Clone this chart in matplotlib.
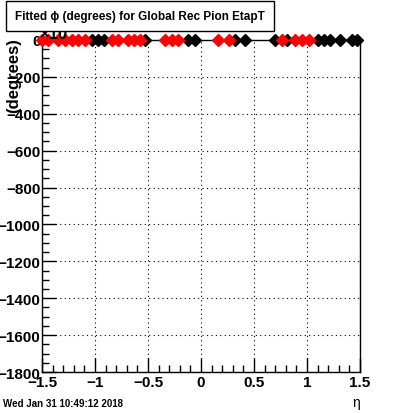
import matplotlib
matplotlib.use("Agg")
import matplotlib.pyplot as plt
from matplotlib.ticker import MultipleLocator, FuncFormatter

plt.rcParams['font.family'] = ['Liberation Sans', 'DejaVu Sans']

# fitted phi per eta bin (values ~0 on this scale)
eta_red = [-1.50, -1.443, -1.349, -1.283, -1.217, -1.160, -1.094, -0.840, -0.783,
           -0.689, -0.632, -0.575, -0.340, -0.274, -0.217, 0.160, 0.264, 0.764,
           0.887, 0.953, 1.019]
phi_red = [0.0] * len(eta_red)
eta_black = [-1.028, -0.972, -0.915, -0.528, -0.123, -0.057, 0.321, 0.415, 0.698,
             0.811, 1.104, 1.160, 1.217, 1.311, 1.425, 1.472]
phi_black = [0.0] * len(eta_black)

fig = plt.figure(figsize=(4.0, 4.14), dpi=100)
ax = fig.add_axes([0.105, 0.099, 0.795, 0.802])

ax.plot(eta_black, phi_black, 'D', color='black', markersize=6.5, clip_on=False, zorder=5)
ax.plot(eta_red, phi_red, 'D', color='red', markersize=6.5, clip_on=False, zorder=6)

ax.set_xlim(-1.5, 1.5)
ax.set_ylim(-1800, 0)
ax.xaxis.set_major_locator(MultipleLocator(0.5))
ax.xaxis.set_minor_locator(MultipleLocator(0.1))
ax.yaxis.set_major_locator(MultipleLocator(200))
ax.yaxis.set_minor_locator(MultipleLocator(50))
fmt = FuncFormatter(lambda v, p: ('%g' % v).replace('-', '\u2212'))
ax.xaxis.set_major_formatter(fmt)
ax.yaxis.set_major_formatter(fmt)
ax.tick_params(which='both', direction='in', top=False, right=False, color='black')
ax.tick_params(which='major', length=10, width=1, labelsize=11)
ax.tick_params(which='minor', length=5, width=1)
ax.tick_params(axis='y', pad=1)
ax.tick_params(axis='x', pad=2)
for lab in ax.get_xticklabels() + ax.get_yticklabels():
    lab.set_fontweight('bold')
ax.grid(True, which='major', color='black', linestyle=(0, (1, 3)), linewidth=0.8)
for s in ax.spines.values():
    s.set_linewidth(1)

ax.set_ylabel('(degrees)', fontsize=12, fontweight='bold')
ax.yaxis.set_label_coords(-0.065, 0.895)

fig.text(0.098, 0.905, '×10', fontsize=12, fontweight='bold', zorder=1)
fig.text(0.0375, 0.959, 'Fitted ϕ (degrees) for Global Rec Pion EtapT', fontsize=8.5,
         fontweight='bold', va='center', zorder=10,
         bbox=dict(boxstyle='square,pad=0.75', fc='white', ec='black', lw=1))
fig.text(0.008, 0.018, 'Wed Jan 31 10:49:12 2018', fontsize=7, fontweight='bold')
fig.text(0.88, 0.018, 'η', fontsize=10)

fig.savefig('out.png', dpi=100)
